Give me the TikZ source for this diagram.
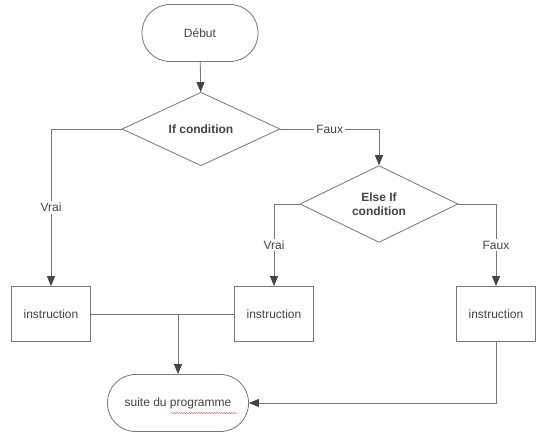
\documentclass[tikz,border=0pt]{standalone}
\usepackage{fontspec}
\setmainfont{Liberation Sans}
\usetikzlibrary{shapes.geometric,arrows.meta,decorations.pathmorphing}
\definecolor{lc}{HTML}{777777}
\definecolor{tc}{HTML}{444444}
\definecolor{ac}{HTML}{444444}
\begin{document}
\begin{tikzpicture}[x=1pt,y=-1pt,
  every node/.style={font=\fontsize{12}{14}\selectfont, text=tc},
  term/.style={draw=lc, line width=0.8pt, rectangle, rounded corners=28pt, minimum width=116pt, minimum height=57pt, inner sep=0pt},
  cond/.style={draw=lc, line width=0.8pt, diamond, minimum width=158pt, minimum height=72pt, inner sep=0pt, font=\fontsize{12}{14}\selectfont\bfseries, align=center},
  instr/.style={draw=lc, line width=0.8pt, rectangle, minimum width=79pt, minimum height=55pt, inner sep=0pt},
  conn/.style={draw=lc, line width=0.8pt},
  arr/.style={conn, -{Triangle[width=8pt,length=10pt,color=ac]}},
  lab/.style={fill=white, inner sep=2pt}
]
\useasboundingbox (0,0) rectangle (544,444);
\fill[white] (0,0) rectangle (544,444);

\node[term] (debut) at (200,33) {Début};
\node[cond] (ifc) at (201,129) {If condition};
\node[cond] (elif) at (379,204) {Else If\\condition};
\node[instr] (i1) at (51,314) {instruction};
\node[instr] (i2) at (274,314) {instruction};
\node[instr] (i3) at (496,314) {instruction};
\node[term, minimum width=141pt] (suite) at (178,403) {suite du programme};
\coordinate (j) at (178,314);

\draw[arr] (debut) -- (ifc);
\draw[arr] (ifc.west) -| node[lab, pos=0.75] {Vrai} (i1.north);
\draw[arr] (ifc.east) -| node[lab, pos=0.25] {Faux} (elif.north);
\draw[arr] (elif.west) -| node[lab, pos=0.75] {Vrai} (i2.north);
\draw[arr] (elif.east) -| node[lab, pos=0.75] {Faux} (i3.north);
\draw[conn] (i1.east) -- (i2.west);
\draw[arr] (j) -- (suite.north);
\draw[arr] (i3.south) |- (suite.east);

\draw[red!70, line width=0.4pt, decorate, decoration={snake, amplitude=0.6pt, segment length=2.5pt}]
  ([xshift=-7pt,yshift=-10pt]suite.center) -- ([xshift=59pt,yshift=-10pt]suite.center);
\end{tikzpicture}
\end{document}
